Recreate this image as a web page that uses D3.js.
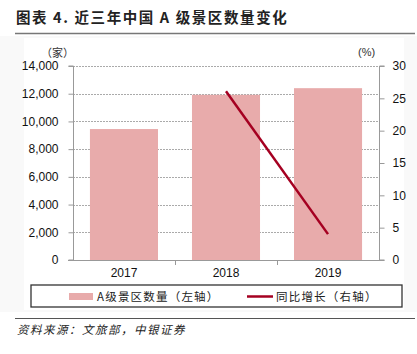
<!DOCTYPE html>
<html>
<head>
<meta charset="utf-8">
<script src="https://cdn.jsdelivr.net/npm/d3@7"></script>
<style>
  body { margin: 0; background: #fff; }
  svg { display: block; }
</style>
</head>
<body>
<svg id="chart" width="417" height="354"></svg>
<script>
// data
let years = ['2017', '2018', '2019'];
let scenicCount = [9450, 11920, 12400];   // A级景区数量 (left axis)
let growthYears = ['2018', '2019'];
let growthRate = [26.1, 4.0];             // 同比增长 % (right axis)
let leftTicks = [0, 2000, 4000, 6000, 8000, 10000, 12000, 14000];
let rightTicks = [0, 5, 10, 15, 20, 25, 30];

let svg = d3.select('#chart');

let plot = { left: 73, right: 379, top: 66, bottom: 260 };
let barColor = '#e8abab';
let lineColor = '#a50021';
let cjk = '"Noto Sans CJK SC", sans-serif';
let latin = '"Liberation Sans", Arial, sans-serif';

// faint panel behind the chart
svg.append('rect')
  .attr('x', 0).attr('y', 36).attr('width', 417).attr('height', 276)
  .attr('fill', '#f9f9f9');
svg.append('rect')
  .attr('x', 24).attr('y', 38).attr('width', 380).attr('height', 272)
  .attr('fill', '#fff');

// title
svg.append('text')
  .attr('x', 16).attr('y', 23)
  .attr('font-family', cjk)
  .attr('font-size', 14.5)
  .attr('font-weight', 'bold')
  .attr('letter-spacing', 1.6)
  .attr('fill', '#222')
  .text('图表 4. 近三年中国 A 级景区数量变化');

svg.append('line')
  .attr('x1', 15).attr('x2', 415).attr('y1', 33.5).attr('y2', 33.5)
  .attr('stroke', '#777').attr('stroke-width', 1.5);

let x = d3.scaleBand()
  .domain(years)
  .range([plot.left, plot.right])
  .paddingInner(0.333)
  .paddingOuter(0.166);

let xOuter = d3.scaleBand()
  .domain(years)
  .range([plot.left, plot.right]);

let yLeft = d3.scaleLinear()
  .domain([0, 14000])
  .range([plot.bottom, plot.top]);

let yRight = d3.scaleLinear()
  .domain([0, 30])
  .range([plot.bottom, plot.top]);

// gridlines
svg.append('g')
  .selectAll('line')
  .data(leftTicks.filter(d => d > 0))
  .enter()
  .append('line')
  .attr('x1', plot.left).attr('x2', plot.right)
  .attr('y1', d => Math.round(yLeft(d)) + 0.5)
  .attr('y2', d => Math.round(yLeft(d)) + 0.5)
  .attr('stroke', '#aaa')
  .attr('stroke-dasharray', '2,1');

// bars
svg.append('g')
  .selectAll('rect')
  .data(years)
  .enter()
  .append('rect')
  .attr('x', d => x(d))
  .attr('width', x.bandwidth())
  .attr('y', (d, i) => yLeft(scenicCount[i]))
  .attr('height', (d, i) => plot.bottom - yLeft(scenicCount[i]))
  .attr('fill', barColor);

// growth line
let line = d3.line()
  .x((d, i) => xOuter(growthYears[i]) + xOuter.bandwidth() / 2)
  .y(d => yRight(d));

svg.append('path')
  .datum(growthRate)
  .attr('d', line)
  .attr('fill', 'none')
  .attr('stroke', lineColor)
  .attr('stroke-width', 2.5);

// axes
let leftAxis = svg.append('g')
  .attr('transform', `translate(${plot.left + 0.5},0)`)
  .call(d3.axisLeft(yLeft).tickValues(leftTicks).tickSize(5).tickPadding(10)
    .tickFormat(d3.format(',')));

let rightAxis = svg.append('g')
  .attr('transform', `translate(${plot.right + 0.5},0)`)
  .call(d3.axisRight(yRight).tickValues(rightTicks).tickSize(5).tickPadding(8));

let bottomAxis = svg.append('g')
  .attr('transform', `translate(0,${plot.bottom + 0.5})`)
  .call(d3.axisBottom(xOuter).tickSize(0).tickPadding(8));

// category boundary ticks below the axis
svg.append('g')
  .selectAll('line')
  .data(years.slice(1))
  .enter()
  .append('line')
  .attr('x1', d => Math.round(xOuter(d)) + 0.5)
  .attr('x2', d => Math.round(xOuter(d)) + 0.5)
  .attr('y1', plot.bottom).attr('y2', plot.bottom + 5)
  .attr('stroke', '#999');

[leftAxis, rightAxis, bottomAxis].forEach(g => {
  g.select('.domain').attr('stroke', '#999');
  g.selectAll('.tick line').attr('stroke', '#999');
  g.selectAll('text')
    .attr('font-family', latin)
    .attr('font-size', 12)
    .attr('fill', '#111');
});
leftAxis.select('.domain').attr('d', `M-5,${plot.bottom}H0V${plot.top}H-5`);
rightAxis.select('.domain').attr('d', `M5,${plot.bottom}H0V${plot.top}H5`);
bottomAxis.select('.domain').attr('d', `M${plot.left - 5},0H${plot.right + 5}`);

// unit labels
svg.append('text')
  .attr('x', 41).attr('y', 57)
  .attr('font-family', cjk).attr('font-size', 11).attr('fill', '#333')
  .text('（家）');
svg.append('text')
  .attr('x', 358).attr('y', 56)
  .attr('font-family', latin).attr('font-size', 11).attr('fill', '#333')
  .text('(%)');

// legend
svg.append('rect')
  .attr('x', 31).attr('y', 285).attr('width', 371).attr('height', 22)
  .attr('fill', '#fff')
  .attr('stroke', '#333').attr('stroke-width', 1.3);

svg.append('rect')
  .attr('x', 69).attr('y', 293).attr('width', 24).attr('height', 7)
  .attr('fill', barColor);
svg.append('text')
  .attr('x', 97).attr('y', 301)
  .attr('font-family', cjk).attr('font-size', 11.5).attr('fill', '#222')
  .attr('letter-spacing', 1.2)
  .text('A级景区数量（左轴）');

svg.append('line')
  .attr('x1', 247).attr('x2', 273).attr('y1', 296.5).attr('y2', 296.5)
  .attr('stroke', lineColor).attr('stroke-width', 2.5);
svg.append('text')
  .attr('x', 276).attr('y', 301)
  .attr('font-family', cjk).attr('font-size', 11.5).attr('fill', '#222')
  .attr('letter-spacing', 1.2)
  .text('同比增长（右轴）');

// source
svg.append('line')
  .attr('x1', 15).attr('x2', 415).attr('y1', 318.5).attr('y2', 318.5)
  .attr('stroke', '#555').attr('stroke-width', 1);

svg.append('text')
  .attr('x', 17).attr('y', 334)
  .attr('font-family', cjk).attr('font-size', 11.5)
  .attr('font-style', 'italic').attr('fill', '#222')
  .attr('letter-spacing', 1.5)
  .text('资料来源：文旅部，中银证券');
</script>
</body>
</html>
